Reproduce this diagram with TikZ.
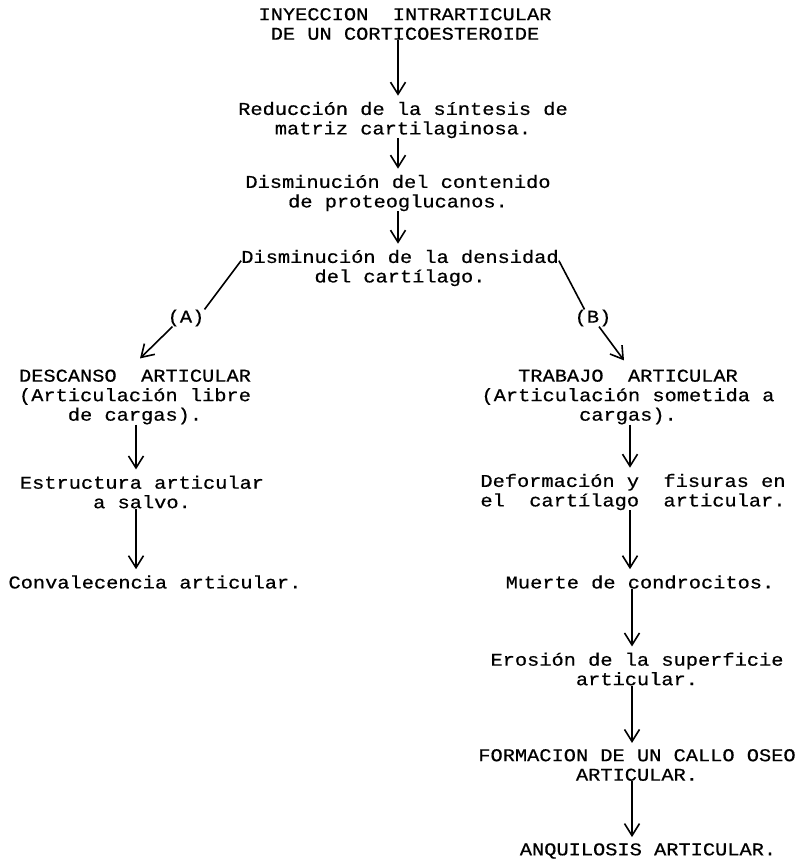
\documentclass[tikz,border=0pt]{standalone}
\usepackage{fontspec}
\setmonofont[FakeStretch=1.13,FakeBold=0.6]{Liberation Mono}
\usetikzlibrary{arrows.meta}
\begin{document}
\begin{tikzpicture}[x=1pt,y=-1pt,
  txt/.style={font=\fontsize{18}{19.5}\selectfont\ttfamily, align=center, inner sep=0pt},
  arr/.style={line width=1.6pt, -{Straight Barb[length=12pt,width=15pt,line width=1.6pt]}},
  ln/.style={line width=1.6pt}]
\useasboundingbox (0,0) rectangle (807,859);
\coordinate (cx) at (398,0);
\coordinate (lx) at (136,0);
\coordinate (rx) at (630,0);
\coordinate (rx2) at (632,0);

\node[txt] (iny) at (405,24) {INYECCION\ \ INTRARTICULAR\\DE UN CORTICOESTEROIDE};
\node[txt] (red) at (403,120) {Reducción de la síntesis de\\matriz cartilaginosa.};
\node[txt] (con) at (398,193) {Disminución del contenido\\de proteoglucanos.};
\node[txt] (den) at (400,268) {Disminución de la densidad\\del cartílago.};
\node[txt] (labA) at (186,318) {(A)};
\node[txt] (labB) at (593,318) {(B)};
\node[txt] (des) at (135,397) {DESCANSO\ \ ARTICULAR\\(Articulación libre\\de cargas).};
\node[txt] (est) at (142,492) {Estructura articular\\a salvo.};
\node[txt] (conv) at (155,582) {Convalecencia articular.};
\node[txt] (tra) at (628,397) {TRABAJO\ \ ARTICULAR\\(Articulación sometida a\\cargas).};
\node[txt] (def) at (633,492) {Deformación y\ \ fisuras en\\el\ \ cartílago\ \ articular.};
\node[txt] (mue) at (640,582) {Muerte de condrocitos.};
\node[txt] (ero) at (637,669) {Erosión de la superficie\\articular.};
\node[txt] (for) at (637,765) {FORMACION DE UN CALLO OSEO\\ARTICULAR.};
\node[txt] (anq) at (648,851) {ANQUILOSIS ARTICULAR.};

\draw[arr] (iny.south -| cx) -- ([yshift=6pt]red.north -| cx);
\draw[arr] (red.south -| cx) -- ([yshift=6pt]con.north -| cx);
\draw[arr] (con.south -| cx) -- ([yshift=6pt]den.north -| cx);

\draw[ln] ([yshift=-11pt]den.north west) -- (labA.north east);
\draw[arr] ([xshift=5pt]labA.south west) -- ([xshift=5pt,yshift=11pt]des.north);
\draw[ln] ([yshift=-11pt]den.north east) -- ([xshift=10pt]labB.north west);
\draw[arr] ([xshift=6pt]labB.south) -- ([xshift=-4pt,yshift=9pt]tra.north);

\draw[arr] (des.south -| lx) -- ([yshift=6pt]est.north -| lx);
\draw[arr] (est.south -| lx) -- ([yshift=6pt]conv.north -| lx);

\draw[arr] (tra.south -| rx) -- ([yshift=6pt]def.north -| rx);
\draw[arr] (def.south -| rx) -- ([yshift=6pt]mue.north -| rx);
\draw[arr] (mue.south -| rx2) -- ([yshift=6pt]ero.north -| rx2);
\draw[arr] (ero.south -| rx2) -- ([yshift=6pt]for.north -| rx2);
\draw[arr] (for.south -| rx2) -- ([yshift=6pt]anq.north -| rx2);
\end{tikzpicture}
\end{document}
